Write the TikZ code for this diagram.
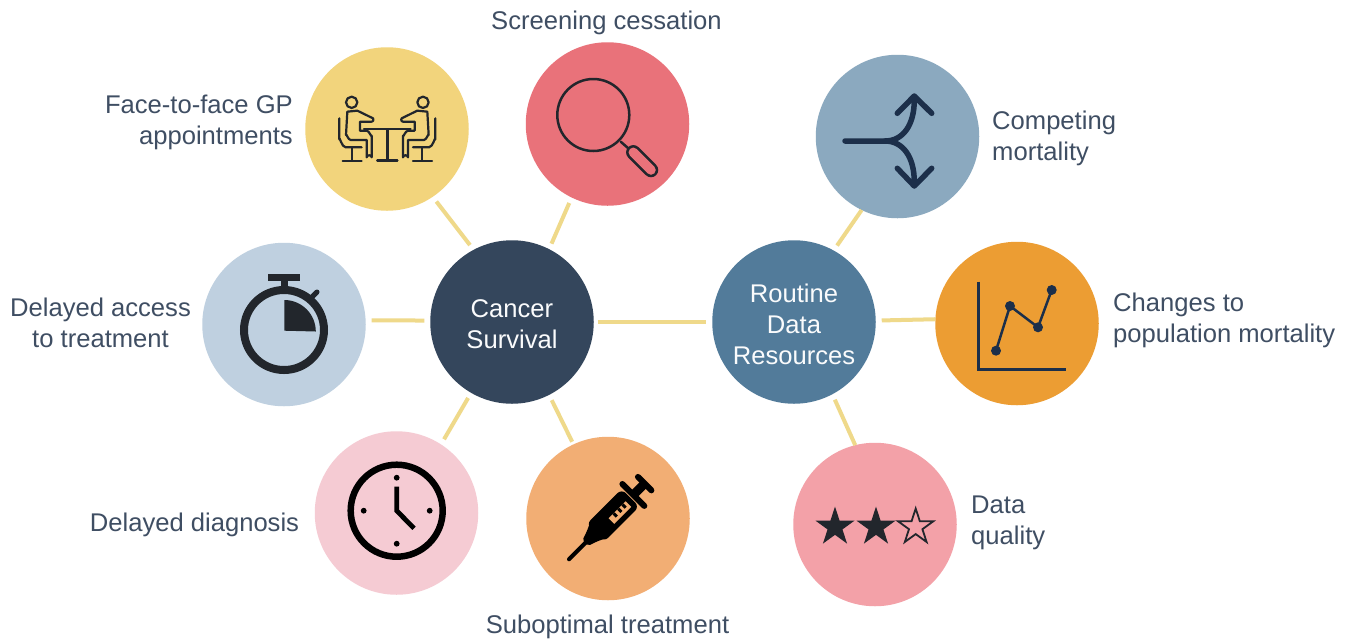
\documentclass[tikz,border=0pt]{standalone}
\usepackage{fontspec}
\setmainfont{Liberation Sans}
\usetikzlibrary{shapes.geometric}
\definecolor{txt}{HTML}{3F4E63}
\definecolor{link}{HTML}{EFD98A}
\definecolor{ink}{HTML}{22262C}
\definecolor{navy}{HTML}{1C2F4A}
\definecolor{cFace}{HTML}{F2D47C}
\definecolor{cScreen}{HTML}{E9727A}
\definecolor{cStop}{HTML}{BFD0E0}
\definecolor{cClock}{HTML}{F5CBD3}
\definecolor{cSyr}{HTML}{F2AE74}
\definecolor{cComp}{HTML}{8BA9BF}
\definecolor{cChange}{HTML}{EC9D33}
\definecolor{cData}{HTML}{F3A1A8}
\definecolor{cCancer}{HTML}{34465C}
\definecolor{cRoutine}{HTML}{527B9A}
\tikzset{
  disc/.style={circle,fill=#1,minimum size=163.5pt,inner sep=0pt,outer sep=0pt},
  hub/.style={disc=#1,text=white!92!cStop,align=center,font=\fontsize{25.6}{31}\selectfont},
  lbl/.style={text=txt,inner sep=0pt,font=\fontsize{25.6}{31}\selectfont},
  conn/.style={draw=link,line width=4pt,shorten <=6pt,shorten >=6pt},
  iconline/.style={draw=ink,line width=2.2pt,line cap=round,line join=round},
  starbox/.style={star,star points=5,star point ratio=2.618,minimum size=41pt,inner sep=0pt,outer sep=0pt}
}
\begin{document}
\begin{tikzpicture}[x=1pt,y=-1pt]
\useasboundingbox[fill=white] (0,0) rectangle (1347,641);
% discs
\node[hub=cCancer] (cancer) at (512,322) {\rule{0pt}{23pt}Cancer\\Survival};
\node[hub=cRoutine] (routine) at (794,322) {\rule{0pt}{23pt}Routine\\Data\\Resources};
\node[disc=cFace] (face) at (387,129) {};
\node[disc=cScreen] (screen) at (607.5,124) {};
\node[disc=cStop] (stop) at (284,324.5) {};
\node[disc=cClock] (clock) at (396.5,513) {};
\node[disc=cSyr] (syr) at (608,518.5) {};
\node[disc=cComp] (comp) at (897.5,136.5) {};
\node[disc=cChange] (change) at (1017,323.5) {};
\node[disc=cData] (data) at (875,524.5) {};
% connectors
\draw[conn] (face.-56.5) -- (cancer.118.6);
\draw[conn] (screen.-116.3) -- (cancer.63.4);
\draw[conn] (stop.3.4) -- (cancer.179.2);
\draw[conn] (clock.57) -- (cancer.240.5);
\draw[conn,shorten <=3pt] (syr.115) -- (cancer.-63);
\draw[conn,shorten <=4pt] (cancer.0) -- (routine.180);
\draw[conn,shorten <=0pt] (comp.-116.7) -- (routine.61);
\draw[conn,shorten >=0pt] (routine.1.9) -- (change.177.9);
\draw[conn,shorten <=0pt] (data.104) -- (routine.-62);
% labels
\node[lbl,align=right,anchor=east] (lface) at (293,122) {Face-to-face GP\\appointments};
\node[lbl] (lscreen) at (606.5,23) {Screening cessation};
\node[lbl,align=center] (lstop) at (100.5,323) {Delayed access\\to treatment};
\node[lbl] (lclock) at (194.5,525) {Delayed diagnosis};
\node[lbl] (lsyr) at (607.5,627) {Suboptimal treatment};
\node[lbl,align=left,anchor=west] (lcomp) at (992,138) {Competing\\mortality};
\node[lbl,align=left,anchor=west] (lchange) at (1113,320) {Changes to\\population mortality};
\node[lbl,align=left,anchor=west] (ldata) at (971,523) {Data\\quality};
% icon: people at a table
\begin{scope}[shift={(300,40)},x=0.3333pt,y=-0.3333pt]
 \foreach \s in {1,-1}{
 \begin{scope}[shift={(262,0)},xscale=\s,shift={(-262,0)}]
  \draw[iconline] (155,187) circle[radius=17];
  \draw[iconline] (142,215) -- (138,285) to[out=90,in=180] (152,300) -- (200,300) -- (200,352)
     to[out=90,in=90,looseness=1.4] (215,352) -- (215,287) to[out=-90,in=0] (200,272) -- (180,272) -- (180,245) -- (215,245)
     to[out=0,in=0,looseness=1.5] (215,233) -- (172,212) -- cycle;
  \draw[iconline] (118,235) -- (118,298) to[out=90,in=180] (137,322) -- (185,322);
  \draw[iconline] (157,322) -- (157,362);
  \draw[iconline] (128,362) -- (185,362);
 \end{scope}}
 \draw[iconline] (192,268) -- (332,268);
 \draw[iconline,line width=2.6pt] (262,268) -- (262,362);
 \draw[iconline,line width=2.6pt] (232,362) -- (292,362);
\end{scope}
% icon: magnifier
\draw[iconline,line width=2.5pt] (593.3,115) circle[radius=36];
\draw[iconline,line width=2.5pt] (620.7,141.7) -- (628.3,148.3);
\draw[line width=14.5pt,draw=ink,line cap=round] (633.3,152.3) -- (651,170);
\draw[line width=9.5pt,draw=cScreen,line cap=round] (633.3,152.3) -- (651,170);
% icon: stopwatch
\draw[ink,line width=8pt] (284,330) circle[radius=40];
\fill[ink] (268,273.5) rectangle (300,281);
\fill[ink] (281,281) rectangle (288,292);
\draw[ink,line width=5pt,line cap=round] (311,298) -- (317,292);
\fill[ink] (284.3,330.7) -- (284.3,300) arc[start angle=90,end angle=0,radius=31.5pt] -- cycle;
% icon: clock
\draw[black,line width=6.5pt] (396.7,510.7) circle[radius=46];
\foreach \p in {(396.7,477.7),(396.7,543.7),(363.7,510.7),(429.7,510.7)}
  \fill[black] \p circle[radius=2.9];
\draw[black,line width=4.8pt,line join=miter] (396.7,486.7) -- (396.7,510.7) -- (414,528.3);
% icon: syringe
\begin{scope}[shift={(568.3,560)},rotate=45]
 \draw[black,line width=4pt,line cap=round] (1,0) -- (28,0);
 \fill[black,rounded corners=2pt] (24,-4) -- (33,-7) -- (45,-12.5) -- (45,12.5) -- (33,7) -- (24,4) -- cycle;
 \fill[black,rounded corners=6pt] (38,-12.5) rectangle (88,12.5);
 \fill[cSyr] (58,-1) rectangle (82,7);
 \fill[black] (63.5,-1) rectangle (66.5,3.5) (70,-1) rectangle (73,3.5) (76,-1) rectangle (79,3.5);
 \draw[black,line width=6pt,line cap=round] (92,-15.5) -- (92,15.5);
 \fill[black] (90,-4.5) rectangle (106,4.5);
 \draw[black,line width=6pt,line cap=round] (108,-9.5) -- (108,9.5);
\end{scope}
% icon: diverging arrows
\begin{scope}[navy,line width=5.5pt,line cap=round,line join=round]
 \draw (845,141) -- (885,141) .. controls (903,141) and (914.3,125) .. (914.3,100);
 \draw (885,141) .. controls (903,141) and (914.3,157) .. (914.3,182);
 \draw (897.3,113.3) -- (914.3,96) -- (931.7,113.3);
 \draw (897.3,168.3) -- (914.3,186) -- (931.7,168.3);
\end{scope}
% icon: chart
\draw[navy,line width=2.5pt] (978.3,281.7) -- (978.3,369.3) -- (1065.7,369.3);
\draw[navy,line width=2.5pt] (996,350.7) -- (1010,306) -- (1038,327.3) -- (1051.7,290);
\foreach \p in {(996,350.7),(1010,306),(1038,327.3),(1051.7,290)}
  \fill[navy] \p circle[radius=5];
% icon: stars
\node[starbox,fill=ink] (s1) at (835,527) {};
\node[starbox,fill=ink] (s2) at (876,527) {};
\node[starbox,draw=ink,line width=1.8pt,minimum size=37pt] (s3) at (915.7,527) {};
\end{tikzpicture}
\end{document}
